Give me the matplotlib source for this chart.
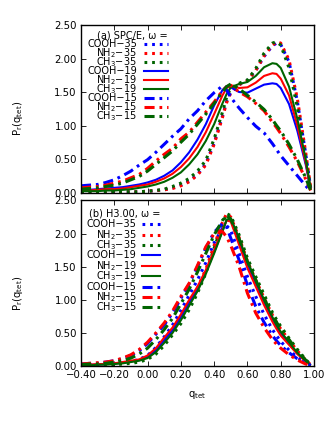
import numpy as np
import matplotlib
matplotlib.use('Agg')
import matplotlib.pyplot as plt
from matplotlib.ticker import FuncFormatter

plt.rcParams['font.family'] = 'DejaVu Sans'
plt.rcParams['mathtext.default'] = 'regular'

# q_tet grid (denser near the peaks)
q = [-0.40, -0.35, -0.30, -0.25, -0.20, -0.15, -0.10, -0.05, 0.00, 0.05, 0.10,
     0.15, 0.20, 0.25, 0.30, 0.35, 0.40, 0.45, 0.475, 0.50, 0.55, 0.60, 0.65,
     0.70, 0.75, 0.775, 0.80, 0.85, 0.90, 0.95, 0.98]

labels = ['COOH\u221235', 'NH$_2$\u221235', 'CH$_3$\u221235',
          'COOH\u221219', 'NH$_2$\u221219', 'CH$_3$\u221219',
          'COOH\u221215', 'NH$_2$\u221215', 'CH$_3$\u221215']

# (a) SPC/E
spce_cooh35 = [0.0, 0.0, 0.0, 0.0, 0.01, 0.01, 0.01, 0.01, 0.02, 0.03, 0.04, 0.07, 0.11, 0.17, 0.27, 0.43, 0.74, 1.14,
               1.36, 1.50, 1.61, 1.67, 1.82, 2.03, 2.19, 2.23, 2.21, 1.95, 1.36, 0.58, 0.07]
spce_nh235 = [0.0, 0.0, 0.0, 0.0, 0.01, 0.01, 0.01, 0.01, 0.02, 0.03, 0.04, 0.06, 0.10, 0.16, 0.26, 0.41, 0.72, 1.12,
              1.34, 1.49, 1.61, 1.67, 1.82, 2.04, 2.20, 2.25, 2.23, 1.98, 1.40, 0.60, 0.08]
spce_ch335 = [0.0, 0.0, 0.0, 0.0, 0.01, 0.01, 0.01, 0.01, 0.02, 0.03, 0.05, 0.09, 0.14, 0.21, 0.32, 0.48, 0.80, 1.20,
              1.42, 1.56, 1.63, 1.68, 1.85, 2.08, 2.23, 2.25, 2.20, 1.86, 1.27, 0.50, 0.06]
spce_cooh19 = [0.04, 0.04, 0.05, 0.06, 0.07, 0.08, 0.10, 0.12, 0.15, 0.19, 0.25, 0.33, 0.45, 0.60, 0.79, 1.02, 1.30, 1.53,
               1.59, 1.57, 1.50, 1.49, 1.55, 1.61, 1.63, 1.62, 1.56, 1.32, 0.92, 0.42, 0.05]
spce_nh219 = [0.03, 0.03, 0.04, 0.05, 0.05, 0.06, 0.08, 0.10, 0.12, 0.16, 0.21, 0.28, 0.38, 0.51, 0.68, 0.90, 1.17, 1.45,
              1.56, 1.60, 1.56, 1.57, 1.64, 1.74, 1.78, 1.77, 1.70, 1.45, 1.00, 0.45, 0.05]
spce_ch319 = [0.02, 0.02, 0.02, 0.03, 0.03, 0.04, 0.05, 0.07, 0.09, 0.12, 0.16, 0.22, 0.30, 0.42, 0.57, 0.77, 1.02, 1.33,
              1.47, 1.57, 1.62, 1.65, 1.74, 1.87, 1.93, 1.92, 1.86, 1.58, 1.10, 0.50, 0.06]
spce_cooh15 = [0.10, 0.11, 0.12, 0.15, 0.19, 0.25, 0.32, 0.41, 0.49, 0.60, 0.72, 0.84, 0.95, 1.10, 1.22, 1.37, 1.49, 1.59,
               1.53, 1.42, 1.26, 1.12, 0.99, 0.89, 0.73, 0.64, 0.55, 0.40, 0.25, 0.10, 0.02]
spce_nh215 = [0.07, 0.08, 0.09, 0.11, 0.14, 0.17, 0.22, 0.27, 0.36, 0.47, 0.57, 0.66, 0.80, 0.90, 1.05, 1.20, 1.35, 1.52,
              1.58, 1.60, 1.50, 1.43, 1.33, 1.22, 1.05, 0.97, 0.88, 0.68, 0.46, 0.20, 0.03]
spce_ch315 = [0.05, 0.06, 0.07, 0.09, 0.11, 0.14, 0.19, 0.24, 0.32, 0.42, 0.52, 0.62, 0.75, 0.87, 1.02, 1.17, 1.33, 1.50,
              1.58, 1.62, 1.55, 1.45, 1.35, 1.24, 1.09, 1.00, 0.92, 0.72, 0.49, 0.22, 0.03]

# (b) H3.00
h3_cooh35 = [0.02, 0.02, 0.03, 0.03, 0.04, 0.05, 0.07, 0.10, 0.16, 0.28, 0.44, 0.62, 0.84, 1.07, 1.30, 1.56, 1.86, 2.08,
             2.12, 2.05, 1.70, 1.35, 1.05, 0.78, 0.55, 0.46, 0.37, 0.24, 0.13, 0.05, 0.01]
h3_nh235 = [0.02, 0.02, 0.02, 0.03, 0.03, 0.04, 0.06, 0.08, 0.13, 0.23, 0.37, 0.53, 0.72, 0.94, 1.18, 1.46, 1.82, 2.17,
            2.30, 2.25, 1.94, 1.58, 1.30, 1.03, 0.77, 0.66, 0.56, 0.39, 0.23, 0.09, 0.02]
h3_ch335 = [0.01, 0.01, 0.01, 0.02, 0.02, 0.03, 0.04, 0.06, 0.10, 0.18, 0.31, 0.47, 0.64, 0.85, 1.10, 1.40, 1.78, 2.15,
            2.30, 2.27, 1.98, 1.63, 1.35, 1.08, 0.81, 0.70, 0.60, 0.42, 0.25, 0.10, 0.02]
h3_cooh19 = [0.02, 0.02, 0.02, 0.03, 0.04, 0.05, 0.07, 0.09, 0.14, 0.24, 0.39, 0.54, 0.74, 0.96, 1.17, 1.42, 1.72, 2.04,
             2.20, 2.20, 1.88, 1.53, 1.25, 0.96, 0.70, 0.59, 0.49, 0.34, 0.19, 0.08, 0.01]
h3_nh219 = [0.02, 0.02, 0.03, 0.03, 0.04, 0.06, 0.08, 0.10, 0.16, 0.27, 0.43, 0.58, 0.78, 1.00, 1.20, 1.45, 1.75, 2.06,
            2.20, 2.18, 1.83, 1.48, 1.20, 0.92, 0.67, 0.56, 0.46, 0.32, 0.18, 0.07, 0.01]
h3_ch319 = [0.01, 0.01, 0.02, 0.02, 0.03, 0.04, 0.06, 0.08, 0.12, 0.21, 0.35, 0.50, 0.69, 0.91, 1.13, 1.39, 1.70, 2.03,
            2.21, 2.23, 1.93, 1.58, 1.30, 1.00, 0.74, 0.62, 0.52, 0.36, 0.20, 0.08, 0.01]
h3_cooh15 = [0.03, 0.04, 0.04, 0.06, 0.08, 0.11, 0.16, 0.23, 0.34, 0.48, 0.62, 0.80, 1.02, 1.24, 1.50, 1.78, 2.02, 2.15,
             2.10, 1.93, 1.60, 1.22, 0.90, 0.66, 0.46, 0.38, 0.31, 0.20, 0.11, 0.04, 0.01]
h3_nh215 = [0.03, 0.04, 0.05, 0.06, 0.08, 0.12, 0.17, 0.25, 0.36, 0.50, 0.65, 0.83, 1.05, 1.25, 1.52, 1.80, 2.00, 2.03,
            1.95, 1.82, 1.50, 1.10, 0.80, 0.58, 0.40, 0.33, 0.27, 0.17, 0.09, 0.03, 0.01]
h3_ch315 = [0.02, 0.03, 0.03, 0.04, 0.06, 0.08, 0.12, 0.18, 0.27, 0.40, 0.55, 0.72, 0.94, 1.16, 1.42, 1.70, 1.98, 2.20,
            2.27, 2.22, 1.92, 1.58, 1.30, 1.02, 0.77, 0.66, 0.56, 0.40, 0.23, 0.09, 0.02]

spce = [spce_cooh35, spce_nh235, spce_ch335, spce_cooh19, spce_nh219, spce_ch319,
        spce_cooh15, spce_nh215, spce_ch315]
h3 = [h3_cooh35, h3_nh235, h3_ch335, h3_cooh19, h3_nh219, h3_ch319,
      h3_cooh15, h3_nh215, h3_ch315]

colors = ['#0000ff', '#ff0000', '#006400'] * 3
dotted = (0, (0.9, 1.6))
dashdot = (0, (3.3, 1.6, 0.9, 1.6))
styles = [dotted] * 3 + ['-'] * 3 + [dashdot] * 3
widths = [2.2] * 3 + [1.5] * 3 + [2.2] * 3

fs = 7.3
fs_key = 7.0
fig = plt.figure(figsize=(3.34, 4.30), dpi=100)
ax1 = fig.add_axes([0.2425, 0.5523, 0.6976, 0.3895])
ax2 = fig.add_axes([0.2425, 0.1488, 0.6976, 0.3850])


def draw_panel(ax, data, title, key):
    # key = (text right x, line x0, line x1, title y, first row y, row step) in axes coords
    xt, x0, x1, yt, y0, dy = key
    for i, ys in enumerate(data):
        ax.plot(q, ys, color=colors[i], linestyle=styles[i], linewidth=widths[i],
                dash_capstyle='butt', solid_capstyle='butt')
    ax.text(x1, yt, title, ha='right', va='center', fontsize=fs_key, transform=ax.transAxes)
    for i, lab in enumerate(labels):
        y = y0 - i * dy
        ax.text(xt, y, lab, ha='right', va='center', fontsize=fs_key, transform=ax.transAxes)
        ax.plot([x0, x1], [y, y], color=colors[i], linestyle=styles[i], linewidth=widths[i],
                dash_capstyle='butt', transform=ax.transAxes)
    ax.set_xlim(-0.4, 1.0)
    ax.set_ylim(0, 2.5)
    ax.set_xticks(np.arange(-0.4, 1.01, 0.2))
    ax.set_yticks(np.arange(0, 2.51, 0.5))
    ax.yaxis.set_major_formatter(FuncFormatter(lambda v, p: '%.2f' % v))
    ax.xaxis.set_major_formatter(FuncFormatter(lambda v, p: ('%.2f' % v).replace('-', '\u2212')))
    ax.tick_params(direction='in', top=True, right=True, length=3.5, width=0.6,
                   labelsize=fs, pad=3)
    for s in ax.spines.values():
        s.set_linewidth(1.0)
    ax.set_ylabel('P$_r$(q$_{tet}$)', fontsize=fs)
    ax.yaxis.set_label_coords(-0.24, 0.44)


draw_panel(ax1, spce, '(a) SPC/E, \u03c9 =',
           (0.240, 0.270, 0.373, 0.940, 0.885, 0.0533))
draw_panel(ax2, h3, '(b) H3.00, \u03c9 =',
           (0.239, 0.262, 0.339, 0.923, 0.856, 0.0628))
ax1.tick_params(labelbottom=False)
ax2.set_xlabel('q$_{tet}$', fontsize=fs, labelpad=6)

fig.savefig('out.png', dpi=100, facecolor='white')
